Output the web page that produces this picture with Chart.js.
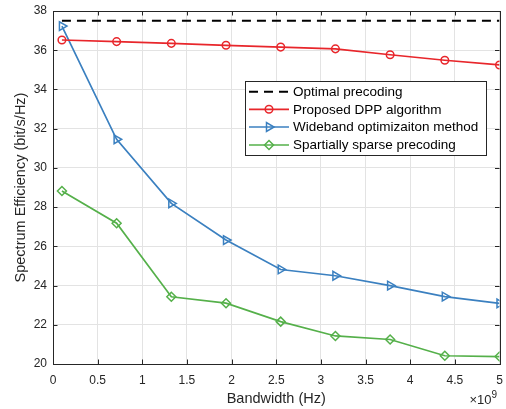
<!DOCTYPE html>
<html>
<head>
<meta charset="utf-8">
<script src="https://cdn.jsdelivr.net/npm/chart.js@4/dist/chart.umd.min.js"></script>
<style>
  html, body { margin: 0; padding: 0; background: #ffffff; }
  #wrap { width: 506px; height: 409px; position: relative; }
</style>
</head>
<body>
<div id="wrap"><canvas id="c" width="506" height="409"></canvas></div>
<script>
// ---- data (bandwidth in units of 1e9 Hz) ----
const bandwidth = [0.1, 0.7125, 1.325, 1.9375, 2.55, 3.1625, 3.775, 4.3875, 5.0];
const optimal   = [37.5, 37.5, 37.5, 37.5, 37.5, 37.5, 37.5, 37.5, 37.5];
const proposedDPP = [36.52, 36.44, 36.35, 36.25, 36.16, 36.07, 35.77, 35.49, 35.25];
const wideband    = [37.23, 31.46, 28.19, 26.32, 24.82, 24.50, 24.00, 23.44, 23.09];
const sparse      = [28.82, 27.18, 23.43, 23.10, 22.16, 21.43, 21.25, 20.42, 20.38];
const seriesNames = ['Optimal precoding', 'Proposed DPP algorithm', 'Wideband optimizaiton method', 'Spartially sparse precoding'];
const xTickStep = 0.5, yTickStep = 2;

const FONT = "'Liberation Sans', Arial, Helvetica, sans-serif";
const TXT = '#262626';

function pts(ys) { return bandwidth.map((x, i) => ({x: x, y: ys[i]})); }

const datasets = [
  { label: seriesNames[0], data: pts(optimal), borderColor: '#000000', borderWidth: 2,
    borderDash: [9, 6], pointRadius: 0, pointStyle: false, fill: false },
  { label: seriesNames[1], data: pts(proposedDPP), borderColor: '#e8262b', borderWidth: 1.7,
    pointStyle: 'circle', pointRadius: 3.8, pointBorderWidth: 1.5, pointBackgroundColor: 'rgba(0,0,0,0)', fill: false },
  { label: seriesNames[2], data: pts(wideband), borderColor: '#3b80c0', borderWidth: 1.7,
    pointStyle: 'triangle', pointRotation: 90, pointRadius: 5, pointBorderWidth: 1.5, pointBackgroundColor: 'rgba(0,0,0,0)', fill: false },
  { label: seriesNames[3], data: pts(sparse), borderColor: '#55b04a', borderWidth: 1.7,
    pointStyle: 'rectRot', pointRadius: 4.5, pointBorderWidth: 1.5, pointBackgroundColor: 'rgba(0,0,0,0)', fill: false }
];

const framePlugin = {
  id: 'frame',
  afterDatasetsDraw(chart) {
    const ctx = chart.ctx, a = chart.chartArea;
    const xs = chart.scales.x, ys = chart.scales.y;
    ctx.save();
    // box
    ctx.strokeStyle = TXT; ctx.lineWidth = 1;
    ctx.strokeRect(Math.round(a.left) + 0.5, Math.round(a.top) + 0.5, Math.round(a.right - a.left), Math.round(a.bottom - a.top));
    // inward ticks
    const tl = 4.5;
    ctx.beginPath();
    xs.ticks.forEach(t => {
      const px = Math.round(xs.getPixelForValue(t.value)) + 0.5;
      ctx.moveTo(px, a.bottom); ctx.lineTo(px, a.bottom - tl);
      ctx.moveTo(px, a.top); ctx.lineTo(px, a.top + tl);
    });
    ys.ticks.forEach(t => {
      const py = Math.round(ys.getPixelForValue(t.value)) + 0.5;
      ctx.moveTo(a.left, py); ctx.lineTo(a.left + tl, py);
      ctx.moveTo(a.right, py); ctx.lineTo(a.right - tl, py);
    });
    ctx.stroke();

    // legend
    const L = 245.5, T = 81.5, W = 241, H = 74;
    ctx.fillStyle = '#ffffff';
    ctx.fillRect(L, T, W, H);
    ctx.strokeStyle = TXT; ctx.lineWidth = 1;
    ctx.strokeRect(L, T, W, H);
    const rowsY = [91.7, 109.3, 127, 145];
    chart.data.datasets.forEach((ds, i) => {
      const y = rowsY[i];
      ctx.save();
      ctx.strokeStyle = ds.borderColor; ctx.lineWidth = ds.borderWidth;
      ctx.setLineDash(ds.borderDash || []);
      ctx.beginPath(); ctx.moveTo(249, y); ctx.lineTo(289, y); ctx.stroke();
      ctx.setLineDash([]);
      if (ds.pointStyle) {
        ctx.fillStyle = 'rgba(0,0,0,0)';
        ctx.lineWidth = ds.pointBorderWidth;
        Chart.helpers.drawPoint(ctx, {pointStyle: ds.pointStyle, rotation: ds.pointRotation || 0,
          radius: ds.pointRadius, borderWidth: ds.pointBorderWidth}, 269, y);
      }
      ctx.restore();
      ctx.fillStyle = '#000000';
      ctx.font = '13.5px ' + FONT;
      ctx.textAlign = 'left'; ctx.textBaseline = 'middle';
      ctx.fillText(ds.label, 293, y + 0.5);
    });

    // x10^9 exponent label
    ctx.fillStyle = TXT;
    ctx.textBaseline = 'alphabetic';
    ctx.font = '10px ' + FONT;
    ctx.textAlign = 'right';
    ctx.fillText('9', 497, 398);
    const w9 = ctx.measureText('9').width;
    ctx.font = '13px ' + FONT;
    ctx.fillText('\u00d710', 497 - w9, 404);
    ctx.restore();
  }
};

new Chart(document.getElementById('c'), {
  type: 'line',
  data: { datasets: datasets },
  options: {
    responsive: false,
    animation: false,
    layout: { padding: { top: 11, right: 6, left: 0, bottom: 0 } },
    plugins: { legend: { display: false }, tooltip: { enabled: false } },
    scales: {
      x: {
        type: 'linear', min: 0, max: 5,
        ticks: { stepSize: xTickStep, color: TXT, font: { family: FONT, size: 12 }, padding: 9, maxRotation: 0,
                 callback: v => String(Number(v.toFixed(2))) },
        grid: { color: '#e3e3e3', drawTicks: false, lineWidth: 1 },
        border: { display: false },
        title: { display: true, text: 'Bandwidth (Hz)', color: TXT, font: { family: FONT, size: 14.5 }, padding: { top: 0, bottom: 1 } },
        afterFit(s) { s.height = 45; s.paddingLeft = 0; s.paddingRight = 0; }
      },
      y: {
        type: 'linear', min: 20, max: 38,
        ticks: { stepSize: yTickStep, color: TXT, font: { family: FONT, size: 12 }, padding: 6,
                 callback: v => String(Number(v.toFixed(2))) },
        grid: { color: '#e3e3e3', drawTicks: false, lineWidth: 1 },
        border: { display: false },
        title: { display: true, text: 'Spectrum Efficiency (bit/s/Hz)', color: TXT, font: { family: FONT, size: 14.5 }, padding: { top: 12, bottom: 0 } },
        afterFit(s) { s.width = 53; s.paddingTop = 0; s.paddingBottom = 0; }
      }
    }
  },
  plugins: [framePlugin]
});
</script>
</body>
</html>
